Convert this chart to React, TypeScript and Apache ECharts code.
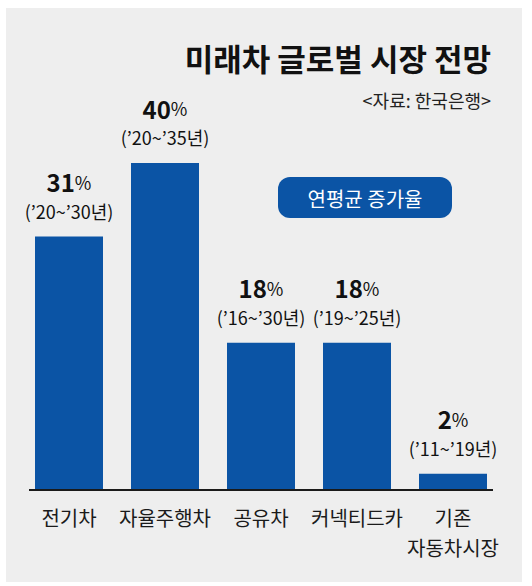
import { useEffect, useRef } from "react";
import * as echarts from "echarts";

const categories = ["전기차", "자율주행차", "공유차", "커넥티드카", "기존\n자동차시장"];
const growth = [31, 40, 18, 18, 2];
const periods = ["’20~’30년", "’20~’35년", "’16~’30년", "’19~’25년", "’11~’19년"];
const title = "미래차 글로벌 시장 전망";
const source = "<자료: 한국은행>";
const badge = "연평균 증가율";

const FONT = "'Noto Sans CJK KR', 'Noto Sans', sans-serif";
const BLUE = "#0b54a5";

export default function App() {
  const chartRef = useRef<HTMLDivElement>(null);

  useEffect(() => {
    if (!chartRef.current) return;
    const chart = echarts.init(chartRef.current, null, { renderer: "svg" });
    const option = {
      animation: false,
      backgroundColor: "#ffffff",
      textStyle: { fontFamily: FONT },
      grid: { left: 21, right: 31, top: 163, bottom: 96 },
      xAxis: {
        type: "category",
        data: categories,
        axisLine: { show: false },
        axisTick: { show: false },
        axisLabel: {
          interval: 0,
          fontSize: 20,
          color: "#1a1a1a",
          margin: 12,
          lineHeight: 30,
          fontFamily: FONT,
        },
      },
      yAxis: {
        type: "value",
        min: 0,
        max: 40,
        show: false,
        splitLine: { show: false },
      },
      graphic: [
        {
          type: "rect",
          z: -10,
          shape: { x: 6, y: 8, width: 516, height: 574 },
          style: { fill: "#eeeeee" },
        },
        {
          type: "text",
          right: 41,
          top: 42,
          style: {
            text: title,
            fontSize: 31,
            fontWeight: "bold",
            fill: "#111",
            fontFamily: FONT,
          },
        },
        {
          type: "text",
          right: 41,
          top: 91,
          style: { text: source, fontSize: 18, fill: "#222", fontFamily: FONT },
        },
        {
          type: "group",
          left: 278,
          top: 177,
          children: [
            {
              type: "rect",
              shape: { x: 0, y: 0, width: 174, height: 41, r: 12 },
              style: { fill: BLUE },
            },
            {
              type: "text",
              x: 87,
              y: 21,
              style: {
                text: badge,
                fontSize: 20,
                fill: "#fff",
                align: "center",
                verticalAlign: "middle",
                fontFamily: FONT,
              },
            },
          ],
        },
        {
          type: "line",
          shape: { x1: 29, y1: 490, x2: 493, y2: 490 },
          style: { stroke: "#1a1a1a", lineWidth: 2 },
          z: 10,
        },
      ],
      series: [
        {
          type: "bar",
          data: growth,
          barWidth: 68,
          itemStyle: { color: BLUE },
          label: {
            show: true,
            position: "top",
            distance: 14,
            formatter: (p: any) =>
              `{v|${growth[p.dataIndex]}}{p|%}\n{r|(${periods[p.dataIndex]})}`,
            rich: {
              v: {
                fontSize: 24,
                fontWeight: "bold",
                color: "#111",
                fontFamily: FONT,
                lineHeight: 34,
              },
              p: { fontSize: 18, color: "#111", fontFamily: FONT, lineHeight: 34 },
              r: { fontSize: 18, color: "#111", fontFamily: FONT, lineHeight: 24 },
            },
          },
        },
      ],
    };
    chart.setOption(option);
    return () => {
      chart.dispose();
    };
  }, []);

  return (
    <div
      ref={chartRef}
      style={{ position: "fixed", left: 0, top: 0, width: 532, height: 586 }}
    ></div>
  );
}
